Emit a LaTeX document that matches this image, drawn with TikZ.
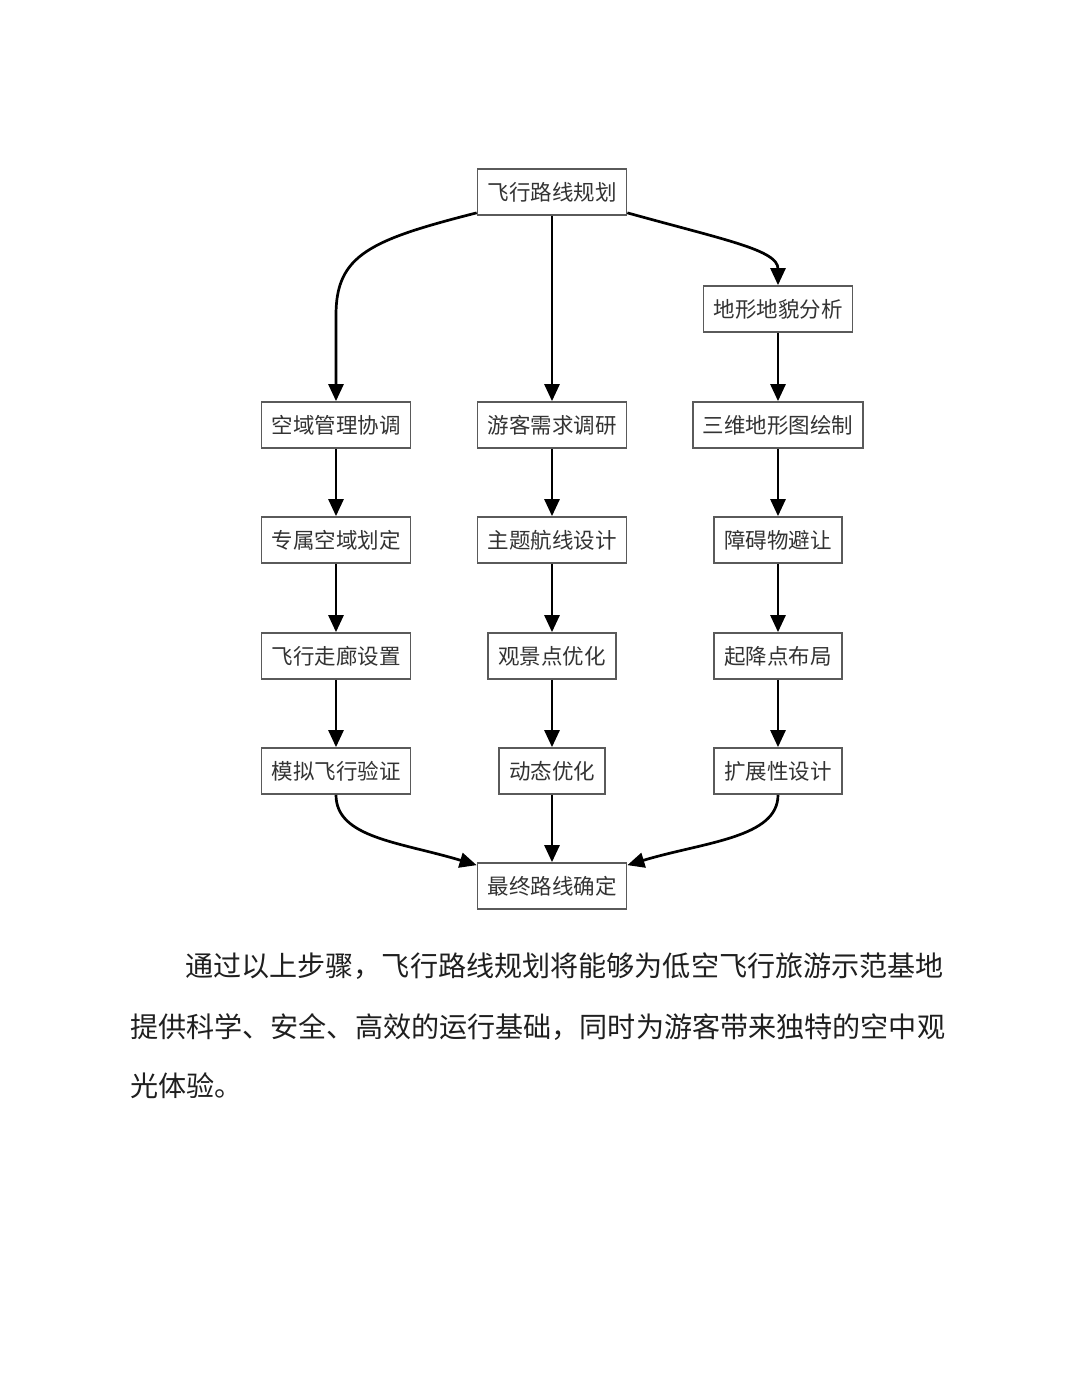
\documentclass[tikz,border=0pt]{standalone}
\usepackage{fontspec}
\setmainfont{Noto Sans CJK SC}
\usetikzlibrary{arrows.meta,calc}
\definecolor{boxline}{HTML}{5A5A5A}
\definecolor{boxtext}{HTML}{333333}
\begin{document}
\begin{tikzpicture}[x=1pt,y=-1pt,
  stepbox/.style={draw=boxline,line width=1.7pt,fill=white,minimum height=46pt,inner xsep=10pt,inner ysep=0pt,
    font=\fontsize{21.5}{24}\selectfont,text=boxtext},
  arr/.style={line width=2.7pt,draw=black,-{Triangle[length=17pt,width=15pt]}},
  para/.style={anchor=west,inner sep=0pt,font=\fontsize{28.1}{32}\selectfont,text=black!88}]
\useasboundingbox (0,0) rectangle (1080,1397);
\fill[white] (0,0) rectangle (1080,1397);
% nodes
\node[stepbox] (top) at (552,192) {飞行路线规划};
\node[stepbox] (terrain) at (778,309) {地形地貌分析};
\node[stepbox] (a1) at (336,425) {空域管理协调};
\node[stepbox] (b1) at (552,425) {游客需求调研};
\node[stepbox] (c1) at (778,425) {三维地形图绘制};
\node[stepbox] (a2) at (336,540) {专属空域划定};
\node[stepbox] (b2) at (552,540) {主题航线设计};
\node[stepbox] (c2) at (778,540) {障碍物避让};
\node[stepbox] (a3) at (336,656) {飞行走廊设置};
\node[stepbox] (b3) at (552,656) {观景点优化};
\node[stepbox] (c3) at (778,656) {起降点布局};
\node[stepbox] (a4) at (336,771) {模拟飞行验证};
\node[stepbox] (b4) at (552,771) {动态优化};
\node[stepbox] (c4) at (778,771) {扩展性设计};
\node[stepbox] (final) at (552,886) {最终路线确定};
% connectors
\draw[arr] ([yshift=3pt]top.south west) .. controls (370,240) and (336,255) .. (336,315) -- (a1.north);
\draw[arr] (top.south) -- (b1.north);
\draw[arr] ([yshift=3pt]top.south east) .. controls (725,240) and (778,250) .. (terrain.north);
\draw[arr] (terrain.south) -- (c1.north);
\draw[arr] (a1) -- (a2);
\draw[arr] (a2) -- (a3);
\draw[arr] (a3) -- (a4);
\draw[arr] (b1) -- (b2);
\draw[arr] (b2) -- (b3);
\draw[arr] (b3) -- (b4);
\draw[arr] (c1) -- (c2);
\draw[arr] (c2) -- (c3);
\draw[arr] (c3) -- (c4);
\draw[arr] (b4) -- (final);
\draw[arr] (a4.south) .. controls (336,838) and (400,842) .. ([yshift=-3pt]final.north west);
\draw[arr] (c4.south) .. controls (778,838) and (704,842) .. ([yshift=-3pt]final.north east);
% paragraph
\node[para] (p1) at (185,966) {通过以上步骤，飞行路线规划将能够为低空飞行旅游示范基地};
\node[para] (p2) at (130,1027) {提供科学、安全、高效的运行基础，同时为游客带来独特的空中观};
\node[para] (p3) at (130,1086) {光体验。};
\end{tikzpicture}
\end{document}
